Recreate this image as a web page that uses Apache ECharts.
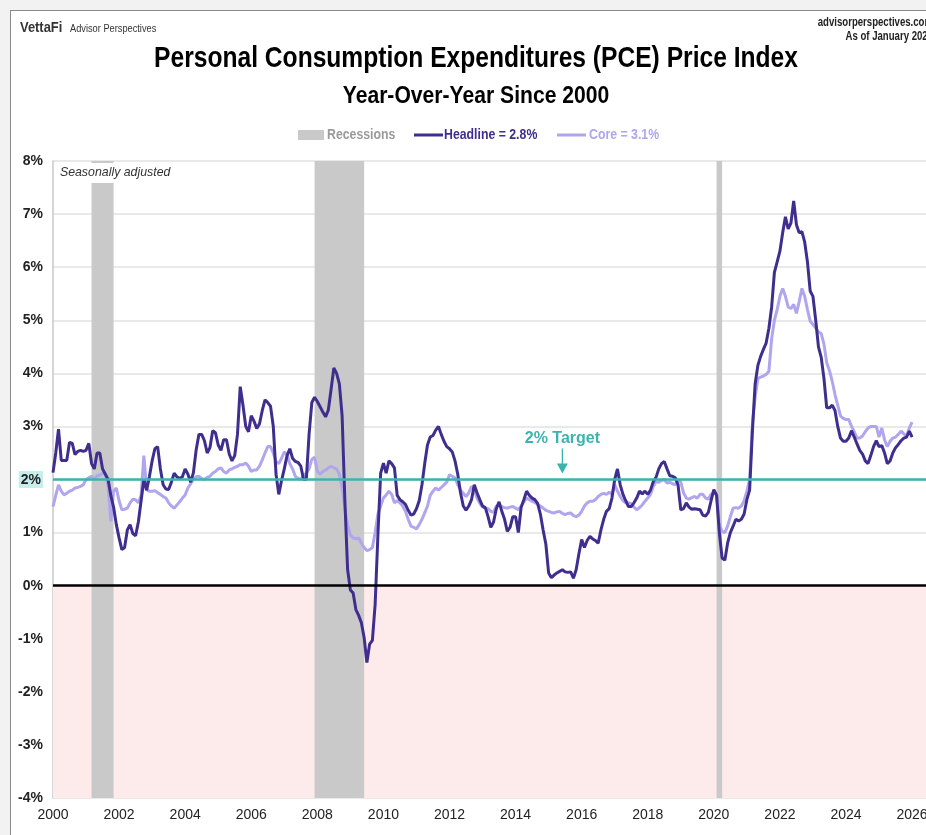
<!DOCTYPE html>
<html><head><meta charset="utf-8">
<script src="https://cdn.jsdelivr.net/npm/echarts@6/dist/echarts.min.js"></script>
<style>
html,body{margin:0;padding:0;overflow:hidden;background:#f2f2f2;width:926px;height:835px;position:relative}
#frame{position:absolute;left:10px;top:10px;width:960px;height:860px;background:#fff;border:1.5px solid #8a8a8a}
#c{position:absolute;left:0;top:0;width:940px;height:835px}
</style>
</head><body><div id="frame"></div><div id="c"></div><script>
const startYear = 2000;
// Monthly year-over-year % change, Jan 2000 onward
const headline = [
 2.13,2.50,2.95,2.36,2.36,2.36,2.70,2.68,2.47,2.53,2.55,2.53,
 2.55,2.68,2.30,2.20,2.50,2.50,2.20,2.10,2.00,1.70,1.48,1.15,
 0.90,0.68,0.72,1.05,1.15,0.98,0.94,1.20,1.60,2.00,1.80,2.05,
 2.35,2.58,2.62,2.20,1.90,1.82,1.81,1.95,2.12,2.05,2.02,2.05,
 2.20,2.10,1.95,2.13,2.56,2.85,2.85,2.73,2.50,2.60,2.92,2.88,
 2.65,2.55,2.75,2.75,2.48,2.35,2.45,2.85,3.75,3.40,3.00,2.90,
 3.20,3.10,2.96,3.05,3.30,3.50,3.45,3.38,3.00,2.10,1.72,1.98,
 2.20,2.45,2.58,2.40,2.34,2.32,2.25,2.00,2.00,2.85,3.45,3.55,
 3.47,3.37,3.27,3.18,3.31,3.70,4.10,4.00,3.80,3.20,1.60,0.30,
 -0.08,-0.14,-0.45,-0.56,-0.70,-0.98,-1.45,-1.10,-1.03,-0.35,0.95,2.12,
 2.31,2.12,2.35,2.30,2.22,1.70,1.62,1.58,1.53,1.42,1.33,1.35,
 1.45,1.60,1.90,2.30,2.65,2.80,2.83,2.93,3.00,2.85,2.72,2.62,
 2.58,2.52,2.35,2.10,1.75,1.50,1.42,1.50,1.62,1.90,1.75,1.62,
 1.50,1.47,1.30,1.10,1.20,1.45,1.58,1.40,1.25,1.02,1.10,1.30,
 1.30,1.00,1.47,1.62,1.78,1.70,1.65,1.62,1.55,1.35,1.05,0.78,
 0.24,0.15,0.20,0.24,0.27,0.30,0.26,0.25,0.26,0.14,0.30,0.60,
 0.87,0.72,0.85,0.93,0.88,0.85,0.80,1.05,1.25,1.40,1.45,1.65,
 2.00,2.20,1.90,1.72,1.60,1.49,1.49,1.56,1.65,1.78,1.73,1.78,
 1.72,1.80,1.96,2.04,2.20,2.30,2.34,2.20,2.07,2.06,2.03,1.90,
 1.43,1.45,1.56,1.48,1.44,1.45,1.44,1.43,1.33,1.31,1.38,1.60,
 1.81,1.70,1.00,0.52,0.48,0.80,1.00,1.12,1.25,1.22,1.25,1.35,
 1.62,1.80,2.90,3.80,4.15,4.32,4.45,4.57,4.85,5.25,5.90,6.10,
 6.30,6.65,6.95,6.72,6.83,7.25,6.80,6.65,6.67,6.47,6.10,5.55,
 5.45,5.00,4.50,4.30,3.90,3.35,3.35,3.40,3.30,3.00,2.78,2.72,
 2.72,2.78,2.92,2.80,2.67,2.55,2.48,2.35,2.30,2.45,2.62,2.73,
 2.62,2.64,2.50,2.30,2.35,2.50,2.60,2.66,2.73,2.78,2.80,2.91,
 2.80
];
const core = [
 1.49,1.70,1.90,1.78,1.71,1.74,1.78,1.80,1.84,1.85,1.87,1.90,
 2.00,2.03,2.06,2.00,2.07,2.08,2.12,2.12,1.90,1.21,1.78,1.84,
 1.60,1.43,1.44,1.46,1.56,1.63,1.62,1.56,1.70,2.45,1.81,1.78,
 1.78,1.79,1.75,1.72,1.68,1.65,1.56,1.50,1.46,1.52,1.58,1.65,
 1.71,1.84,1.92,2.00,2.05,2.06,2.02,2.00,2.04,2.06,2.12,2.15,
 2.20,2.22,2.15,2.12,2.18,2.20,2.23,2.25,2.28,2.28,2.31,2.25,
 2.15,2.18,2.18,2.25,2.37,2.50,2.62,2.62,2.50,2.34,2.30,2.40,
 2.52,2.47,2.30,2.20,2.06,2.02,2.00,2.08,2.12,2.20,2.38,2.42,
 2.15,2.10,2.15,2.18,2.22,2.25,2.22,2.20,2.10,1.85,1.45,1.15,
 0.95,0.90,0.88,0.90,0.80,0.72,0.66,0.68,0.72,1.00,1.35,1.50,
 1.65,1.71,1.78,1.72,1.56,1.60,1.56,1.50,1.40,1.25,1.12,1.10,
 1.07,1.15,1.25,1.37,1.50,1.70,1.78,1.84,1.80,1.85,1.90,1.95,
 2.09,2.06,2.03,1.90,1.80,1.74,1.68,1.75,1.87,1.80,1.65,1.55,
 1.48,1.46,1.45,1.40,1.38,1.50,1.52,1.49,1.47,1.46,1.48,1.49,
 1.46,1.43,1.50,1.58,1.65,1.62,1.59,1.57,1.53,1.50,1.46,1.42,
 1.40,1.38,1.37,1.39,1.40,1.36,1.34,1.36,1.37,1.32,1.30,1.33,
 1.40,1.50,1.56,1.59,1.59,1.62,1.68,1.72,1.74,1.72,1.76,1.72,
 1.90,1.78,1.68,1.60,1.56,1.56,1.55,1.48,1.43,1.47,1.52,1.59,
 1.65,1.72,1.87,1.96,1.95,1.98,2.00,1.93,1.95,1.92,1.90,2.00,
 1.95,1.75,1.65,1.63,1.66,1.68,1.65,1.72,1.72,1.65,1.63,1.72,
 1.75,1.73,1.15,1.02,1.00,1.12,1.30,1.46,1.47,1.46,1.50,1.60,
 1.78,2.00,3.05,3.55,3.90,3.93,3.95,3.98,4.04,4.65,5.00,5.20,
 5.45,5.60,5.45,5.25,5.22,5.30,5.13,5.35,5.60,5.45,5.20,4.98,
 4.92,4.85,4.78,4.75,4.55,4.20,4.05,3.85,3.60,3.40,3.20,3.15,
 3.13,3.13,3.00,2.90,2.78,2.78,2.82,2.90,2.97,3.00,3.00,3.00,
 2.80,2.97,2.75,2.62,2.72,2.78,2.80,2.85,2.91,2.86,2.82,2.97,
 3.08
];
const recessionStart = ['2001-03', '2007-12', '2020-02'];
const recessionEnd   = ['2001-11', '2009-06', '2020-04'];
const targetRate = 2;
const yMin = -4, yMax = 8, yStep = 1;
const xMin = 2000, xMax = 2026.5, xStep = 2;
const headlineLabel = 'Headline = 2.8%';
const coreLabel = 'Core = 3.1%';
const targetLabel = '2% Target';
const targetAt = '2015-06';

const FONT = "'Liberation Sans',Arial,sans-serif";
const C_HEAD = '#3f2e8e', C_CORE = '#b1a5ee', C_TEAL = '#3db3ad';

function ymToYear(s){ const p = s.split('-'); return +p[0] + (+p[1]-1)/12; }
const hData = headline.map((v,i)=>[startYear + i/12, v]);
const cData = core.map((v,i)=>[startYear + i/12, v]);

const areas = [[{yAxis:0, itemStyle:{color:'#fdeaea'}},{yAxis:yMin}]];
recessionStart.forEach((s,i)=>{
  areas.push([{xAxis: ymToYear(s), itemStyle:{color:'#c9c9c9'}},{xAxis: ymToYear(recessionEnd[i])}]);
});

const chart = echarts.init(document.getElementById('c'), null, {renderer:'canvas'});
chart.setOption({
  animation:false,
  backgroundColor:'transparent',
  grid:{left:53, top:161, bottom:37, right:11.4, containLabel:false},
  xAxis:{type:'value', min:xMin, max:xMax, interval:xStep,
    axisLine:{show:false}, axisTick:{show:false}, splitLine:{show:false},
    axisLabel:{fontFamily:FONT, fontSize:14, color:'#222', margin:10,
      formatter:v=> (v%2===0 ? String(v) : '')}},
  yAxis:{type:'value', min:yMin, max:yMax, interval:yStep,
    axisLine:{show:true, lineStyle:{color:'#c8c8c8', width:1.5}}, axisTick:{show:false},
    splitLine:{show:true, lineStyle:{color:'#e2e2e2', width:1.5}},
    axisLabel:{fontFamily:FONT, fontSize:14, fontWeight:'bold', color:'#222', margin:10,
      formatter:v=> v===targetRate ? '{hl|'+v+'%}' : v+'%',
      rich:{hl:{backgroundColor:'#c6eeec', fontFamily:FONT, fontSize:14, fontWeight:'bold', color:'#222', padding:[2,2,1,2]}}}},
  series:[
    {type:'line', data:[], z:1, silent:true,
      markArea:{silent:true, data:areas},
      markLine:{silent:true, symbol:'none', label:{show:false},
        data:[
          {yAxis:0, lineStyle:{color:'#000', width:2.5, type:'solid'}},
          {yAxis:targetRate, lineStyle:{color:C_TEAL, width:2.5, type:'solid'}}
        ]},
      markPoint:{silent:true,
        data:[{coord:[ymToYear(targetAt), targetRate],
          symbol:'path://M4.4,0 L5.6,0 L5.6,15 L10,15 L5,25 L0,15 L4.4,15 Z',
          symbolSize:[11,25], symbolOffset:[0,-18.5],
          itemStyle:{color:C_TEAL},
          label:{show:true, position:'top', distance:2, formatter:targetLabel,
            fontFamily:FONT, fontSize:16, fontWeight:'bold', color:C_TEAL}}]}
    },
    {type:'line', name:'Core', data:cData, z:3, showSymbol:false, symbol:'none',
      lineStyle:{color:C_CORE, width:3}, itemStyle:{color:C_CORE}},
    {type:'line', name:'Headline', data:hData, z:4, showSymbol:false, symbol:'none',
      lineStyle:{color:C_HEAD, width:3}, itemStyle:{color:C_HEAD}}
  ],
  graphic:[
    {type:'text', x:20, y:20, scaleX:0.86, z:100, style:{text:'VettaFi', font:"bold 15px "+FONT, fill:'#333'}},
    {type:'text', x:70, y:23, scaleX:0.84, z:100, style:{text:'Advisor Perspectives', font:"11px "+FONT, fill:'#333'}},
    {type:'text', x:933, y:17, scaleX:0.8, z:100, style:{text:'advisorperspectives.com', font:"bold 12px "+FONT, fill:'#222', align:'right'}},
    {type:'text', x:933, y:31, scaleX:0.8, z:100, style:{text:'As of January 2026', font:"bold 12px "+FONT, fill:'#222', align:'right'}},
    {type:'text', x:476, y:44, scaleX:0.82, z:100, style:{text:'Personal Consumption Expenditures (PCE) Price Index', font:"bold 30px "+FONT, fill:'#000', align:'center'}},
    {type:'text', x:476, y:84, scaleX:0.88, z:100, style:{text:'Year-Over-Year Since 2000', font:"bold 24px "+FONT, fill:'#000', align:'center'}},
    {type:'rect', z:100, shape:{x:298, y:130, width:26, height:10}, style:{fill:'#c9c9c9'}},
    {type:'text', x:327, y:127, scaleX:0.82, z:100, style:{text:'Recessions', font:"bold 15px "+FONT, fill:'#9a9a9a'}},
    {type:'line', z:100, shape:{x1:414, y1:135, x2:443, y2:135}, style:{stroke:C_HEAD, lineWidth:3}},
    {type:'text', x:444, y:127, scaleX:0.82, z:100, style:{text:headlineLabel, font:"bold 15px "+FONT, fill:C_HEAD}},
    {type:'line', z:100, shape:{x1:557, y1:135, x2:586, y2:135}, style:{stroke:C_CORE, lineWidth:3}},
    {type:'text', x:589, y:127, scaleX:0.82, z:100, style:{text:coreLabel, font:"bold 15px "+FONT, fill:C_CORE}},
    {type:'text', x:58, y:163, scaleX:0.95, z:100, style:{text:'Seasonally adjusted', font:"italic 13px "+FONT, fill:'#333', backgroundColor:'#fff', padding:[3,3,4,2]}}
  ]
});
</script></body></html>
